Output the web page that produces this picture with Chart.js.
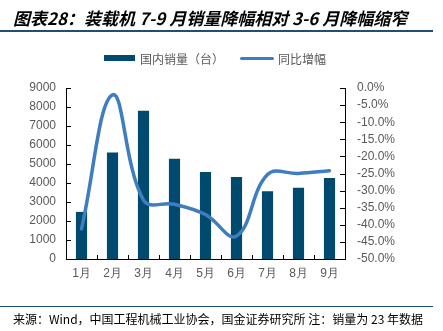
<!DOCTYPE html>
<html><head><meta charset="utf-8">
<script src="https://cdn.jsdelivr.net/npm/chart.js@4"></script>
<style>
html,body{margin:0;padding:0;background:#fff;width:443px;height:331px;overflow:hidden;}
#wrap{position:relative;width:443px;height:331px;}
#c{position:absolute;left:0;top:0;}
.t{position:absolute;white-space:nowrap;}
#title{left:13px;top:5px;font:italic bold 17px "Noto Sans CJK SC";color:#000;}
#tl{position:absolute;left:0;top:30px;width:433px;height:2px;background:#1F4E79;}
#bl{position:absolute;left:0;top:306px;width:433px;height:1px;background:#1F4E79;}
#src{left:13px;top:310px;font:12px "Noto Sans CJK SC";color:#000;}
.lg{font:12px "Noto Sans CJK SC";color:#595959;top:50px;}
#sw1{position:absolute;left:104px;top:55px;width:31px;height:6px;background:#00496F;}
#sw2{position:absolute;left:240px;top:57px;width:34px;height:3px;background:#3E7DC0;border-radius:2px;}
</style></head>
<body><div id="wrap">
<canvas id="c" width="443" height="331"></canvas>
<div class="t" id="title">图表28：装载机 7-9 月销量降幅相对 3-6 月降幅缩窄</div>
<div id="tl"></div>
<div id="sw1"></div><div class="t lg" style="left:140px">国内销量（台）</div>
<div id="sw2"></div><div class="t lg" style="left:278px">同比增幅</div>
<div id="bl"></div>
<div class="t" id="src">来源：Wind，中国工程机械工业协会，国金证券研究所 注：销量为 23 年数据</div>
</div>
<script>
const categories = ['1月','2月','3月','4月','5月','6月','7月','8月','9月'];
const salesValues = [2480, 5600, 7800, 5280, 4580, 4320, 3560, 3750, 4260];
const yoyValues = [-41.2, -2.0, -32.8, -34.0, -37.0, -43.3, -25.3, -25.0, -24.2];
const leftTicks = [0,1000,2000,3000,4000,5000,6000,7000,8000,9000];
const rightTicks = [0,-5,-10,-15,-20,-25,-30,-35,-40,-45,-50];

const inwardTicks = {
  id:'inwardTicks',
  afterDraw(chart){
    const ctx = chart.ctx, a = chart.chartArea;
    const y = chart.scales.y, y1 = chart.scales.y1, x = chart.scales.x;
    ctx.save();
    ctx.strokeStyle = '#000'; ctx.lineWidth = 1;
    ctx.beginPath();
    y.ticks.forEach((t,i)=>{const p=Math.round(y.getPixelForTick(i))+0.5; ctx.moveTo(a.left,p); ctx.lineTo(a.left+5,p);});
    y1.ticks.forEach((t,i)=>{const p=Math.round(y1.getPixelForTick(i))+0.5; ctx.moveTo(a.right,p); ctx.lineTo(a.right-5,p);});
    for(let i=1;i<categories.length;i++){
      const p = Math.round((x.getPixelForValue(i-1)+x.getPixelForValue(i))/2)+0.5;
      ctx.moveTo(p,a.bottom); ctx.lineTo(p,a.bottom-4);
    }
    ctx.stroke();
    ctx.restore();
  }
};

new Chart(document.getElementById('c'), {
  data:{
    labels:categories,
    datasets:[
      {type:'line', label:'同比增幅', data:yoyValues, yAxisID:'y1', borderColor:'#3E7DC0', borderWidth:3.5,
       tension:0.4, pointRadius:0, borderCapStyle:'round', order:0},
      {type:'bar', label:'国内销量（台）', data:salesValues, yAxisID:'y', backgroundColor:'#00496F',
       barPercentage:0.36, categoryPercentage:1, order:1}
    ]
  },
  options:{
    responsive:false, animation:false,
    layout:{padding:{top:88, bottom:0, left:0, right:0}},
    plugins:{legend:{display:false}, tooltip:{enabled:false}},
    scales:{
      x:{grid:{display:false, drawTicks:false}, border:{color:'#000', width:1},
         ticks:{color:'#595959', font:{size:12, family:'Liberation Sans'}, padding:7},
         afterFit(s){s.height=72;}},
      y:{position:'left', min:0, max:9000, grid:{display:false, drawTicks:false}, border:{color:'#000', width:1},
         afterBuildTicks(s){s.ticks=leftTicks.map(v=>({value:v}));},
         ticks:{color:'#595959', font:{size:12, family:'Liberation Sans'}, padding:10, autoSkip:false, callback:v=>String(v)},
         afterFit(s){s.width=66;}},
      y1:{position:'right', min:-50, max:0, grid:{display:false, drawTicks:false}, border:{color:'#000', width:1},
         afterBuildTicks(s){s.ticks=rightTicks.map(v=>({value:v}));},
         ticks:{color:'#595959', font:{size:12, family:'Liberation Sans'}, padding:12, autoSkip:false, callback:v=>v.toFixed(1)+'%'},
         afterFit(s){s.width=98;}}
    }
  },
  plugins:[inwardTicks]
});
</script>
</body></html>
